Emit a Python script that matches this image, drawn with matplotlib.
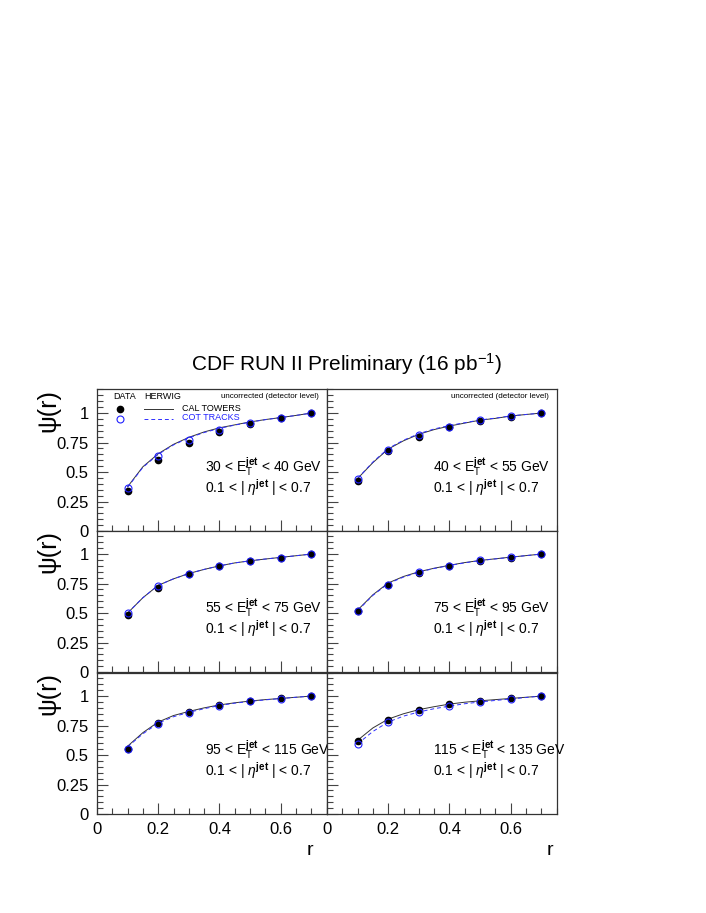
import numpy as np
import matplotlib.pyplot as plt
from matplotlib.ticker import MultipleLocator, FuncFormatter

plt.rcParams['font.family'] = ['Liberation Sans', 'DejaVu Sans']
plt.rcParams['mathtext.fontset'] = 'custom'
plt.rcParams['mathtext.rm'] = 'Liberation Sans'
plt.rcParams['mathtext.it'] = 'Liberation Sans:italic'
plt.rcParams['mathtext.bf'] = 'Liberation Sans:bold'

# r values of the data points and of the HERWIG curves
r_data = [0.1, 0.2, 0.3, 0.4, 0.5, 0.6, 0.7]
r_mc = [0.1, 0.15, 0.2, 0.25, 0.3, 0.35, 0.4, 0.45, 0.5, 0.55, 0.6, 0.65, 0.7]

et_lo = [30, 40, 55, 75, 95, 115]
et_hi = [40, 55, 75, 95, 115, 135]

# DATA, calorimeter towers (filled black)
data_cal = [
    [0.34, 0.60, 0.75, 0.84, 0.91, 0.96, 1.0],
    [0.42, 0.675, 0.80, 0.88, 0.935, 0.97, 1.0],
    [0.48, 0.715, 0.83, 0.90, 0.94, 0.97, 1.0],
    [0.515, 0.735, 0.84, 0.90, 0.945, 0.97, 1.0],
    [0.555, 0.77, 0.867, 0.924, 0.958, 0.98, 1.0],
    [0.62, 0.80, 0.884, 0.932, 0.96, 0.982, 1.0],
]
# DATA, COT tracks (open blue)
data_cot = [
    [0.365, 0.635, 0.775, 0.86, 0.92, 0.962, 1.0],
    [0.44, 0.69, 0.815, 0.885, 0.94, 0.972, 1.0],
    [0.50, 0.73, 0.835, 0.90, 0.942, 0.971, 1.0],
    [0.52, 0.74, 0.845, 0.903, 0.946, 0.972, 1.0],
    [0.555, 0.76, 0.86, 0.92, 0.955, 0.978, 1.0],
    [0.59, 0.78, 0.861, 0.915, 0.948, 0.975, 1.0],
]
# HERWIG, calorimeter towers (solid)
herwig_cal = [
    [0.375, 0.545, 0.655, 0.735, 0.794, 0.84, 0.875, 0.90, 0.925, 0.945, 0.962, 0.98, 1.0],
    [0.445, 0.58, 0.695, 0.765, 0.82, 0.86, 0.89, 0.915, 0.94, 0.955, 0.975, 0.988, 1.0],
    [0.50, 0.63, 0.735, 0.79, 0.835, 0.87, 0.90, 0.925, 0.943, 0.958, 0.972, 0.986, 1.0],
    [0.525, 0.655, 0.755, 0.81, 0.85, 0.88, 0.905, 0.928, 0.946, 0.96, 0.974, 0.987, 1.0],
    [0.575, 0.69, 0.78, 0.835, 0.87, 0.90, 0.925, 0.943, 0.958, 0.97, 0.98, 0.99, 1.0],
    [0.625, 0.73, 0.805, 0.85, 0.885, 0.91, 0.932, 0.948, 0.96, 0.97, 0.98, 0.99, 1.0],
]
# HERWIG, COT tracks (dashed blue)
herwig_cot = [
    [0.37, 0.54, 0.65, 0.73, 0.79, 0.835, 0.87, 0.898, 0.923, 0.944, 0.962, 0.98, 1.0],
    [0.445, 0.585, 0.70, 0.77, 0.825, 0.865, 0.895, 0.918, 0.942, 0.957, 0.976, 0.988, 1.0],
    [0.50, 0.63, 0.735, 0.79, 0.835, 0.87, 0.90, 0.925, 0.943, 0.958, 0.972, 0.986, 1.0],
    [0.52, 0.65, 0.75, 0.805, 0.847, 0.878, 0.903, 0.926, 0.945, 0.959, 0.973, 0.987, 1.0],
    [0.57, 0.68, 0.77, 0.825, 0.862, 0.893, 0.92, 0.94, 0.955, 0.968, 0.979, 0.99, 1.0],
    [0.595, 0.70, 0.78, 0.83, 0.865, 0.893, 0.915, 0.935, 0.95, 0.963, 0.975, 0.988, 1.0],
]

BLUE = '#2020ff'
fig = plt.figure(figsize=(7.06, 9.13), dpi=100)

lefts = [97 / 706, 327 / 706]
width = 229.5 / 706
bottoms = [1 - 531 / 913, 1 - 672 / 913, 1 - 814 / 913]
height = 141.5 / 913

fmt = FuncFormatter(lambda v, p: "%g" % v)

for i in range(6):
    row, col = i // 2, i % 2
    ax = fig.add_axes([lefts[col], bottoms[row], width, height])

    ax.plot(r_mc, herwig_cal[i], color='#333333', lw=0.7)
    ax.plot(r_mc, herwig_cot[i], color='#3030ff', lw=0.7, ls=(0, (4, 3)))
    ax.plot(r_data, data_cal[i], 'o', color='black', ms=4.5)
    ax.plot(r_data, data_cot[i], 'o', mfc='none', mec=BLUE, mew=0.8, ms=5)

    ax.set_xlim(0, 0.75)
    ax.set_ylim(0, 1.2)
    ax.xaxis.set_major_locator(MultipleLocator(0.2))
    ax.xaxis.set_minor_locator(MultipleLocator(0.05))
    ax.yaxis.set_major_locator(MultipleLocator(0.25))
    ax.yaxis.set_minor_locator(MultipleLocator(0.05))
    ax.tick_params(which='both', direction='in', top=False, right=False,
                   width=0.8, color='#444444')
    ax.tick_params(which='major', length=8, labelsize=12, pad=6)
    ax.tick_params(which='minor', length=4)
    for s in ax.spines.values():
        s.set_linewidth(0.9)
        s.set_color('#333333')

    if col == 0:
        ax.yaxis.set_major_formatter(fmt)
        ax.set_ylabel("ψ(r)", fontsize=18, rotation=90)
        ax.yaxis.set_label_coords(-0.16, 0.85)
    else:
        ax.set_yticklabels([])

    if row == 2:
        ax.xaxis.set_major_formatter(fmt)
        ax.text(0.93 if col == 0 else 0.97, -0.2, "r", transform=ax.transAxes,
                fontsize=14, ha='center', va='top')
    else:
        ax.set_xticklabels([])

    tx = 0.47 if col == 0 else 0.46
    ax.text(tx, 0.45, r"%d < E$_\mathrm{T}^\mathbf{jet}$ < %d GeV" % (et_lo[i], et_hi[i]),
            transform=ax.transAxes, fontsize=10, va='center', ha='left')
    ax.text(tx, 0.305, r"0.1 < | $\eta^\mathbf{jet}$ | < 0.7",
            transform=ax.transAxes, fontsize=10, va='center', ha='left')

    if row == 0:
        ax.text(0.965, 0.95, "uncorrected (detector level)", transform=ax.transAxes,
                fontsize=5.8, ha='right', va='center')

    if i == 0:
        # legend drawn by hand, as in the original
        ax.text(0.07, 0.95, "DATA", transform=ax.transAxes, fontsize=6.5, va='center')
        ax.text(0.205, 0.95, "HERWIG", transform=ax.transAxes, fontsize=6.5, va='center')
        ax.plot([0.1], [0.86], 'o', color='black', ms=4.5, transform=ax.transAxes)
        ax.plot([0.1], [0.795], 'o', mfc='none', mec=BLUE, mew=0.8, ms=5,
                transform=ax.transAxes)
        ax.plot([0.205, 0.33], [0.86, 0.86], color='#333333', lw=0.7,
                transform=ax.transAxes)
        ax.plot([0.205, 0.33], [0.795, 0.795], color='#3030ff', lw=0.7,
                ls=(0, (4, 3)), transform=ax.transAxes)
        ax.text(0.37, 0.865, "CAL TOWERS", transform=ax.transAxes, fontsize=6.5,
                va='center')
        ax.text(0.37, 0.80, "COT TRACKS", transform=ax.transAxes, fontsize=6.5,
                va='center', color=BLUE)

fig.text(347 / 706, 1 - 364 / 913, "CDF RUN II Preliminary (16 pb$^{-1}$)",
         fontsize=15, ha='center', va='center')

fig.savefig("out.png", dpi=100)
